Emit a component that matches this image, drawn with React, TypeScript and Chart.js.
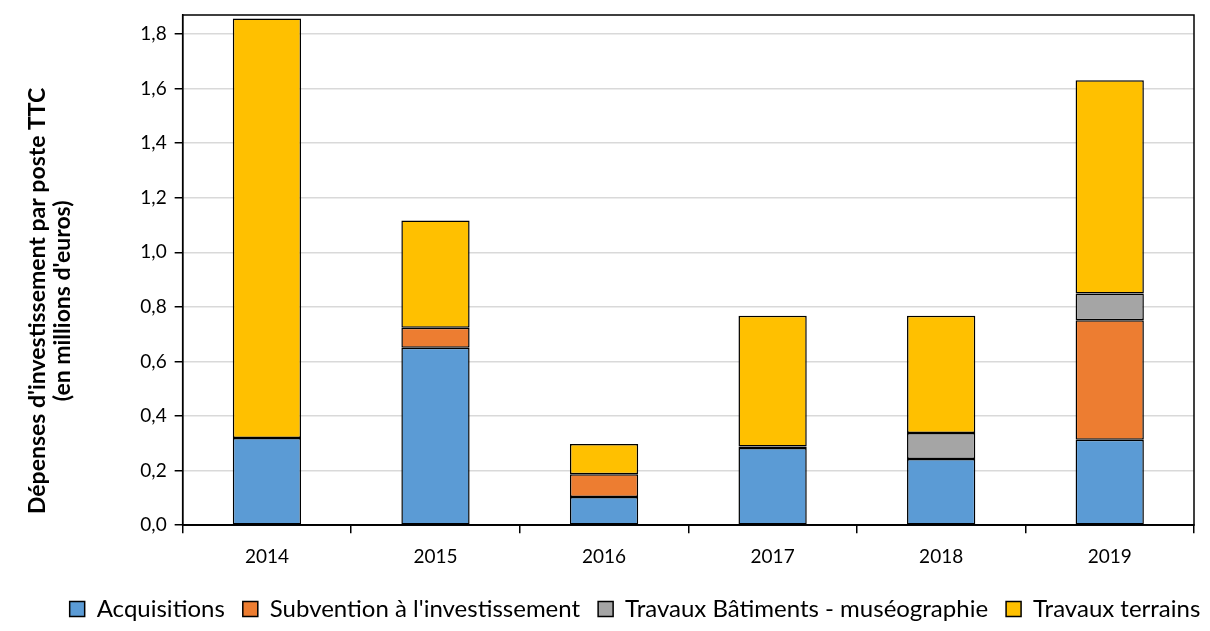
import React, { useEffect, useRef } from "react";
import { Chart, registerables } from "chart.js";

Chart.register(...registerables);

const years = ["2014", "2015", "2016", "2017", "2018", "2019"];
const acquisitions = [0.32, 0.65, 0.103, 0.283, 0.243, 0.313];
const subvention = [0, 0.074, 0.084, 0.005, 0, 0.438];
const travauxBatiments = [0, 0, 0, 0, 0.095, 0.098];
const travauxTerrains = [1.537, 0.393, 0.111, 0.48, 0.43, 0.782];
const yTickValues = [0, 0.2, 0.4, 0.6, 0.8, 1.0, 1.2, 1.4, 1.6, 1.8];
const yTitle = ["Dépenses d'investissement par poste TTC", "(en millions d'euros)"];

const FONT = "Lato, 'Open Sans', sans-serif";
const PAD = "           ";

const frame = {
  id: "frame",
  afterDatasetsDraw(chart: any) {
    const { ctx, chartArea } = chart;
    ctx.save();
    ctx.strokeStyle = "#000";
    ctx.lineWidth = 1.5;
    ctx.strokeRect(chartArea.left, chartArea.top, chartArea.right - chartArea.left, chartArea.bottom - chartArea.top);
    ctx.restore();
  },
};

const legendShift = {
  id: "legendShift",
  afterLayout(chart: any) {
    const lg = chart.legend;
    if (!lg) return;
    lg.left += 27;
    lg.right += 27;
    lg.top -= 7;
    lg.bottom -= 7;
  },
};

export default function App() {
  const ref = useRef<HTMLCanvasElement>(null);
  useEffect(() => {
    document.body.style.margin = "0";
    const mk = (label: string, data: number[], color: string) => ({
      label,
      data,
      backgroundColor: color,
      borderColor: "#000",
      borderWidth: 1.5,
      borderSkipped: false,
      categoryPercentage: 1,
      barPercentage: 0.405,
    });
    const chart = new Chart(ref.current!, {
      type: "bar",
      data: {
        labels: years,
        datasets: [
          mk("Acquisitions", acquisitions, "#5b9bd5"),
          mk("Subvention à l'investissement", subvention, "#ed7d31"),
          mk("Travaux Bâtiments - muséographie", travauxBatiments, "#a5a5a5"),
          mk("Travaux terrains", travauxTerrains, "#ffc000"),
        ],
      },
      options: {
        animation: false,
        responsive: false,
        layout: { padding: { top: 15, right: 16, left: 22, bottom: -7 } },
        plugins: {
          tooltip: { enabled: false },
          legend: {
            position: "bottom",
            labels: {
              boxWidth: 15,
              boxHeight: 15,
              color: "#000",
              font: { family: FONT, size: 24 },
              padding: 18,
            },
          },
        },
        scales: {
          x: {
            stacked: true,
            border: { color: "#000", width: 1.5 },
            grid: { offset: true, drawOnChartArea: false, color: "#000", lineWidth: 1.5, tickLength: 8 },
            ticks: { color: "#000", font: { family: FONT, size: 19 }, padding: 12 },
            afterFit: (scale: any) => {
              scale.height += 6;
            },
          },
          y: {
            stacked: true,
            min: 0,
            max: 1.87,
            border: { color: "#000", width: 1.5 },
            grid: { color: "#d9d9d9", lineWidth: 1.5, tickLength: 8, tickColor: "#000" } as any,
            afterBuildTicks: (scale: any) => {
              scale.ticks = yTickValues.map((v) => ({ value: v }));
            },
            afterFit: (scale: any) => {
              scale.paddingTop = 0;
            },
            ticks: {
              color: "#000",
              font: { family: FONT, size: 19 },
              padding: 8,
              autoSkip: false,
              callback: (v: any) => Number(v).toFixed(1).replace(".", ","),
            },
            title: {
              display: true,
              text: yTitle.map((t) => t + PAD),
              color: "#000",
              font: { family: FONT, size: 23, weight: "bold", lineHeight: 1.05 },
              padding: { bottom: 58 },
            },
          },
        },
      },
      plugins: [frame, legendShift],
    } as any);
    return () => chart.destroy();
  }, []);
  return (
    <div style={{ position: "fixed", left: 0, top: 0, width: 1210, height: 631 }}>
      <canvas ref={ref} width={1210} height={631} />
    </div>
  );
}
